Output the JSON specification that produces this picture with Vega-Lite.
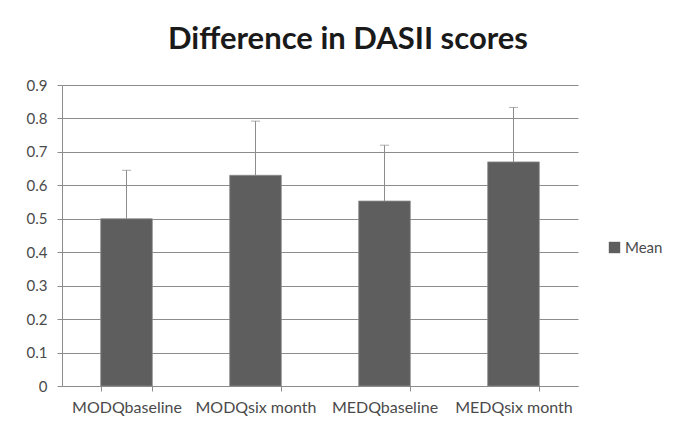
{
  "$schema": "https://vega.github.io/schema/vega-lite/v6.json",
  "autosize": "none",
  "width": 516,
  "height": 301,
  "padding": {"left": 62, "top": 85, "right": 121, "bottom": 38},
  "background": "white",
  "title": {
    "text": "Difference in DASII scores",
    "font": "Lato",
    "fontSize": 31,
    "fontWeight": "bold",
    "color": "#1a1a1a",
    "anchor": "middle",
    "dx": 28,
    "offset": 22
  },
  "data": {
    "values": [
      {"group": "MODQbaseline", "series": "Mean", "mean": 0.50, "upper": 0.645},
      {"group": "MODQsix month", "series": "Mean", "mean": 0.63, "upper": 0.792},
      {"group": "MEDQbaseline", "series": "Mean", "mean": 0.553, "upper": 0.72},
      {"group": "MEDQsix month", "series": "Mean", "mean": 0.67, "upper": 0.833}
    ]
  },
  "encoding": {
    "x": {
      "field": "group",
      "type": "nominal",
      "sort": null,
      "scale": {"paddingInner": 0.6, "paddingOuter": 0.3},
      "axis": {
        "title": null,
        "labelAngle": 0,
        "labelFont": "Lato",
        "labelFontSize": 16,
        "labelColor": "#4a4a4a",
        "labelPadding": 8,
        "labelOverlap": false,
        "tickBand": "extent",
        "tickColor": "#8c8c8c",
        "tickSize": 5,
        "domainColor": "#8c8c8c",
        "grid": false
      }
    }
  },
  "layer": [
    {
      "mark": {"type": "bar", "stroke": "#8a8a8a", "strokeWidth": 0.8},
      "encoding": {
        "y": {
          "field": "mean",
          "type": "quantitative",
          "scale": {"domain": [0, 0.9], "nice": false},
          "axis": {
            "title": null,
            "values": [0, 0.1, 0.2, 0.3, 0.4, 0.5, 0.6, 0.7, 0.8, 0.9],
            "labelExpr": "datum.value == 0 ? '0' : format(datum.value, '.1f')",
            "labelOverlap": false,
            "labelFont": "Lato",
            "labelFontSize": 15,
            "labelColor": "#4a4a4a",
            "labelPadding": 10,
            "tickColor": "#8c8c8c",
            "tickSize": 5,
            "domainColor": "#8c8c8c",
            "gridColor": "#8c8c8c",
            "gridWidth": 1
          }
        },
        "color": {
          "field": "series",
          "type": "nominal",
          "scale": {"range": ["#5e5e5e"]},
          "legend": {
            "title": null,
            "orient": "none",
            "legendX": 545,
            "legendY": 155,
            "symbolType": "square",
            "symbolSize": 130,
            "symbolStrokeWidth": 0,
            "labelFont": "Lato",
            "labelFontSize": 15,
            "labelColor": "#4a4a4a",
            "labelOffset": 3
          }
        }
      }
    },
    {
      "mark": {"type": "rule", "color": "#8c8c8c", "strokeWidth": 1},
      "encoding": {
        "y": {
          "field": "mean",
          "type": "quantitative",
          "axis": {
            "title": null,
            "values": [0, 0.1, 0.2, 0.3, 0.4, 0.5, 0.6, 0.7, 0.8, 0.9],
            "labelExpr": "datum.value == 0 ? '0' : format(datum.value, '.1f')",
            "labelOverlap": false,
            "labelFont": "Lato",
            "labelFontSize": 15,
            "labelColor": "#4a4a4a",
            "labelPadding": 10,
            "tickColor": "#8c8c8c",
            "tickSize": 5,
            "domainColor": "#8c8c8c",
            "gridColor": "#8c8c8c",
            "gridWidth": 1
          }
        },
        "y2": {"field": "upper"}
      }
    },
    {
      "mark": {"type": "tick", "color": "#8c8c8c", "thickness": 1, "size": 9},
      "encoding": {
        "y": {
          "field": "upper",
          "type": "quantitative",
          "axis": {
            "title": null,
            "values": [0, 0.1, 0.2, 0.3, 0.4, 0.5, 0.6, 0.7, 0.8, 0.9],
            "labelExpr": "datum.value == 0 ? '0' : format(datum.value, '.1f')",
            "labelOverlap": false,
            "labelFont": "Lato",
            "labelFontSize": 15,
            "labelColor": "#4a4a4a",
            "labelPadding": 10,
            "tickColor": "#8c8c8c",
            "tickSize": 5,
            "domainColor": "#8c8c8c",
            "gridColor": "#8c8c8c",
            "gridWidth": 1
          }
        }
      }
    }
  ],
  "config": {
    "view": {"stroke": null}
  }
}
